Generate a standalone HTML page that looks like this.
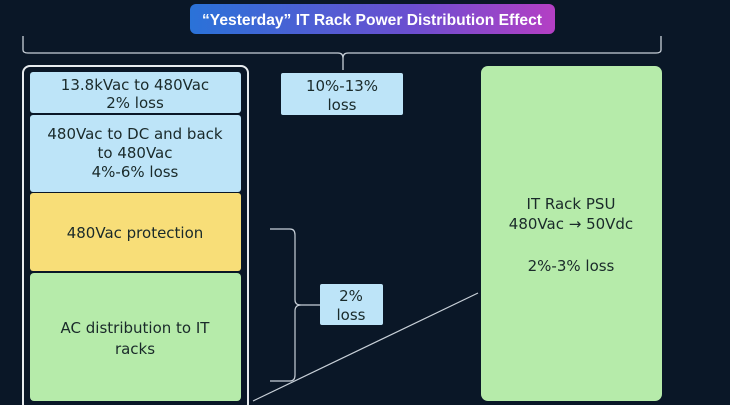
<!DOCTYPE html>
<html><head><meta charset="utf-8"><style>
html,body{margin:0;padding:0;background:#0a1727;width:730px;height:405px;overflow:hidden}
svg text{font-family:"DejaVu Sans","Liberation Sans",sans-serif;fill:#1a2a2a}
</style></head><body>
<svg width="730" height="405" viewBox="0 0 730 405" xmlns="http://www.w3.org/2000/svg">
<defs><linearGradient id="g" x1="0" x2="1"><stop offset="0" stop-color="#2a72d8"/><stop offset="0.6" stop-color="#6a4fd0"/><stop offset="1" stop-color="#b43fc4"/></linearGradient></defs>
<rect x="190" y="4" width="365" height="30" rx="6" fill="url(#g)"/>
<text x="372" y="25" text-anchor="middle" font-size="16" font-weight="bold" style="fill:#fff;font-family:'Liberation Sans Narrow','Liberation Sans',sans-serif" textLength="340" lengthAdjust="spacingAndGlyphs">“Yesterday” IT Rack Power Distribution Effect</text>
<path d="M23,36 V50 Q23,53 28,53 H338 Q343,53 343,58 V70 M343,58 Q343,53 348,53 H656 Q661,53 661,50 V36" fill="none" stroke="#c8d0d8" stroke-width="1.3"/>
<rect x="23" y="66" width="225" height="345" rx="7" fill="none" stroke="#e8ecef" stroke-width="2"/>
<rect x="30" y="72" width="211" height="41" rx="3" fill="#bde4f8"/>
<text x="135" y="90" text-anchor="middle" font-size="15">13.8kVac to 480Vac</text>
<text x="135" y="108" text-anchor="middle" font-size="15">2% loss</text>
<rect x="30" y="115" width="211" height="77" rx="3" fill="#bde4f8"/>
<text x="135" y="139" text-anchor="middle" font-size="15">480Vac to DC and back</text>
<text x="135" y="158" text-anchor="middle" font-size="15">to 480Vac</text>
<text x="135" y="177" text-anchor="middle" font-size="15">4%-6% loss</text>
<rect x="30" y="193" width="211" height="78" rx="3" fill="#f8de78"/>
<text x="135" y="238" text-anchor="middle" font-size="15">480Vac protection</text>
<rect x="30" y="273" width="211" height="128" rx="4" fill="#b6ebaa"/>
<text x="135" y="333" text-anchor="middle" font-size="15">AC distribution to IT</text>
<text x="135" y="354" text-anchor="middle" font-size="15">racks</text>
<rect x="281" y="73" width="122" height="42" rx="2" fill="#bde4f8"/>
<text x="342" y="91" text-anchor="middle" font-size="15">10%-13%</text>
<text x="342" y="110" text-anchor="middle" font-size="15">loss</text>
<path d="M270,229 H290 Q295,229 295,235 V300 Q295,305 301,305 H320 M301,305 Q295,305 295,311 V375 Q295,381 290,381 H270" fill="none" stroke="#c8d0d8" stroke-width="1.2"/>
<rect x="320" y="284" width="63" height="41" rx="2" fill="#bde4f8"/>
<text x="351" y="301" text-anchor="middle" font-size="15">2%</text>
<text x="351" y="320" text-anchor="middle" font-size="15">loss</text>
<line x1="253" y1="401" x2="478" y2="293" stroke="#c8d0d8" stroke-width="1.2"/>
<rect x="481" y="66" width="181" height="335" rx="7" fill="#b6ebaa"/>
<text x="571" y="209" text-anchor="middle" font-size="15">IT Rack PSU</text>
<text x="571" y="229" text-anchor="middle" font-size="15">480Vac → 50Vdc</text>
<text x="571" y="271" text-anchor="middle" font-size="15">2%-3% loss</text>
</svg>
</body></html>
